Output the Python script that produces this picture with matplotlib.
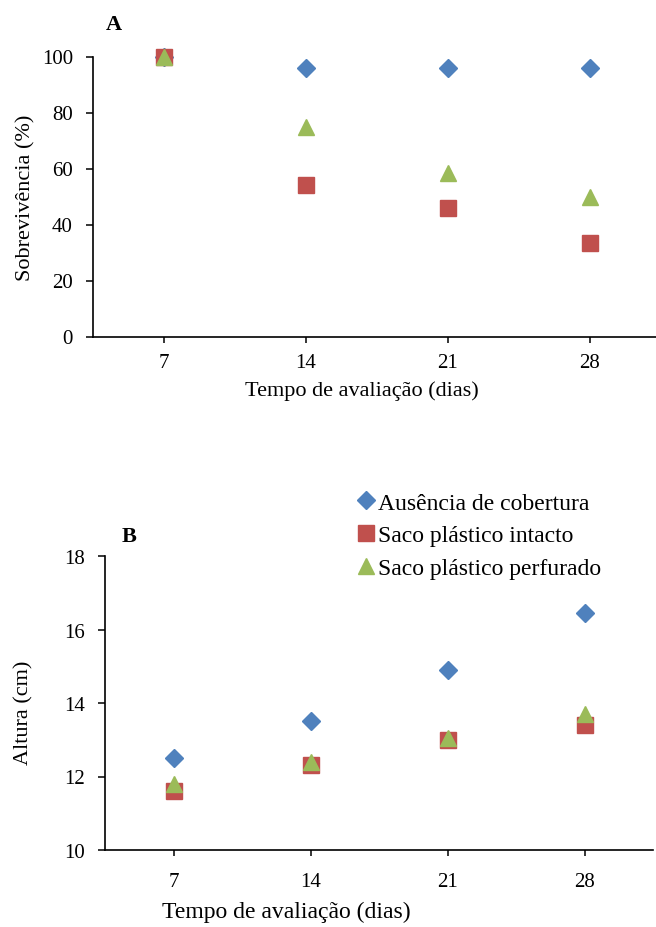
import matplotlib
matplotlib.use('Agg')
import matplotlib.pyplot as plt

plt.rcParams['font.family'] = ['Liberation Serif', 'DejaVu Serif']
plt.rcParams['font.size'] = 16

# Dados
dias = ['7', '14', '21', '28']
series = ['Ausência de cobertura', 'Saco plástico intacto', 'Saco plástico perfurado']

sobrev_ausencia = [100, 95.8, 95.8, 95.8]
sobrev_intacto = [100, 54.2, 45.8, 33.3]
sobrev_perfurado = [100, 75.0, 58.3, 50.0]

altura_ausencia = [12.5, 13.5, 14.9, 16.45]
altura_intacto = [11.6, 12.3, 13.0, 13.4]
altura_perfurado = [11.8, 12.4, 13.05, 13.7]

cores = ['#4F81BD', '#C0504D', '#9BBB59']
marcadores = ['D', 's', '^']
tamanhos = [8.8, 11.0, 11.5]

W, H = 656, 928
fig = plt.figure(figsize=(W / 100, H / 100), dpi=100)

# posições das categorias
pos = [i + 0.5 for i in range(len(dias))]


def painel(rect, dados, ylim, yticks, ylabel, xpad, xlab_size):
    ax = fig.add_axes(rect)
    for vals, c, m, s, nome in zip(dados, cores, marcadores, tamanhos, series):
        ax.plot(pos, vals, linestyle='none', marker=m, markersize=s,
                color=c, markeredgecolor=c, clip_on=False, label=nome)
    ax.set_xlim(0, 4)
    ax.set_ylim(*ylim)
    ax.set_yticks(yticks)
    ax.set_xticks(pos)
    ax.set_xticklabels(dias)
    for sp in ['top', 'right']:
        ax.spines[sp].set_visible(False)
    for sp in ['left', 'bottom']:
        ax.spines[sp].set_linewidth(1.2)
    ax.tick_params(axis='y', direction='out', length=5, width=1.1, pad=9.5,
                   labelsize=15)
    ax.tick_params(axis='x', direction='out', length=4, width=1.1, pad=xpad,
                   labelsize=15)
    ax.set_ylabel(ylabel)
    ax.set_xlabel('Tempo de avaliação (dias)', fontsize=xlab_size)
    return ax


# painel A
ax1 = painel([93 / W, 1 - 337.5 / H, 568 / W, 280 / H],
             [sobrev_ausencia, sobrev_intacto, sobrev_perfurado],
             (0, 100), range(0, 101, 20), 'Sobrevivência (%)', 8, 16)
ax1.yaxis.set_label_coords(-0.102, 0.5)
ax1.xaxis.set_label_coords(0.474, -0.155)
fig.text(106 / W, 1 - 25 / H, 'A', fontweight='bold', fontsize=16, va='center')

# painel B
ax2 = painel([105 / W, 1 - 851 / H, 548 / W, 294 / H],
             [altura_ausencia, altura_intacto, altura_perfurado],
             (10, 18), range(10, 19, 2), 'Altura (cm)', 11.5, 17)
ax2.yaxis.set_label_coords(-0.131, 0.47)
ax2.xaxis.set_label_coords(0.330, -0.172)
fig.text(122 / W, 1 - 537 / H, 'B', fontweight='bold', fontsize=16, va='center')

ax2.legend(loc='upper left', bbox_to_anchor=(358 / W, 1 - 493 / H),
           bbox_transform=fig.transFigure, frameon=False, borderpad=0,
           borderaxespad=0, handlelength=0.7, handletextpad=0.15,
           labelspacing=0.48, fontsize=17)

fig.savefig('out.png', dpi=100)
